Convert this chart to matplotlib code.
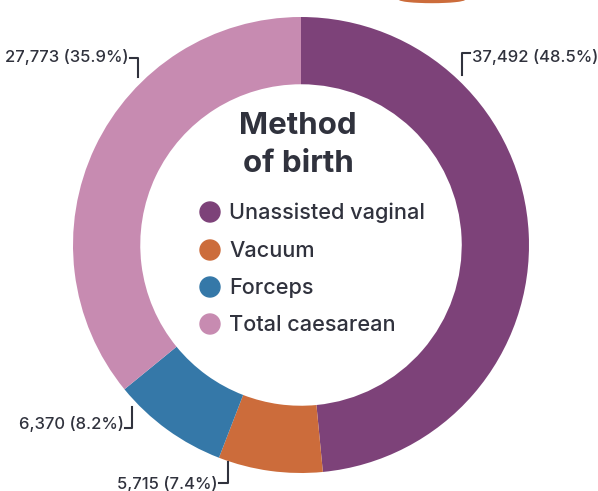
import matplotlib
matplotlib.use("Agg")
import matplotlib.pyplot as plt
from matplotlib.patches import Ellipse

categories = ["Unassisted vaginal", "Vacuum", "Forceps", "Total caesarean"]
counts = [37492, 5715, 6370, 27773]
percents = [48.5, 7.4, 8.2, 35.9]
colors = ["#7D4279", "#CC6C3B", "#3578A8", "#C78BB1"]
text_color = "#30323D"

W, H = 598, 491
fig = plt.figure(figsize=(W / 100, H / 100), dpi=100)
cx, cy, R = 301, 245, 228
ax = fig.add_axes([(cx - R) / W, (H - cy - R) / H, 2 * R / W, 2 * R / H])

ax.pie(counts, colors=colors, startangle=90, counterclock=False, radius=1.0,
       wedgeprops=dict(width=0.295, linewidth=0))
ax.set_xlim(-1, 1)
ax.set_ylim(-1, 1)
ax.set_aspect("equal")
ax.axis("off")

font = "Inter"

def px(x, y):
    return x / W, 1 - y / H

# decorative orange sliver at top (part of neighbouring graphic)
fig.patches.append(Ellipse(px(432, -1), 66 / W, 7 / H, transform=fig.transFigure,
                           color=colors[1], zorder=5))

# title
fig.text(*px(298, 126), "Method", ha="center", va="center", fontsize=22.5,
         fontweight="bold", color=text_color, family=font)
fig.text(*px(298, 164), "of birth", ha="center", va="center", fontsize=22.5,
         fontweight="bold", color=text_color, family=font)

# legend
rows_y = [212, 250, 287, 324]
for cat, col, yy in zip(categories, colors, rows_y):
    fig.patches.append(Ellipse(px(210, yy), 20 / W, 20 / H, transform=fig.transFigure,
                               color=col))
    fig.text(*px(229, yy + 1), cat, ha="left", va="center", fontsize=15.6,
             color=text_color, family=font, fontweight="medium")

def lbl(i):
    return f"{counts[i]:,} ({percents[i]:.1f}%)"

def line(xs, ys):
    fig.add_artist(plt.Line2D([x / W for x in xs], [1 - y / H for y in ys],
                              transform=fig.transFigure, color=text_color, lw=1.5))

fs = 12
kw = dict(va="center", fontsize=fs, color=text_color, family=font, fontweight="medium")
# Unassisted vaginal (top right)
line([470, 462, 462], [53, 53, 75])
fig.text(*px(472, 57), lbl(0), ha="left", **kw)
# Total caesarean (top left)
line([130, 138, 138], [58, 58, 77])
fig.text(*px(129, 57), lbl(3), ha="right", **kw)
# Forceps (bottom left)
line([132, 132, 125], [407, 428, 428])
fig.text(*px(124, 424), lbl(2), ha="right", **kw)
# Vacuum (bottom)
line([228, 228, 219], [462, 483, 483])
fig.text(*px(218, 484), lbl(1), ha="right", **kw)

fig.savefig("out.png", dpi=100, facecolor="white")
